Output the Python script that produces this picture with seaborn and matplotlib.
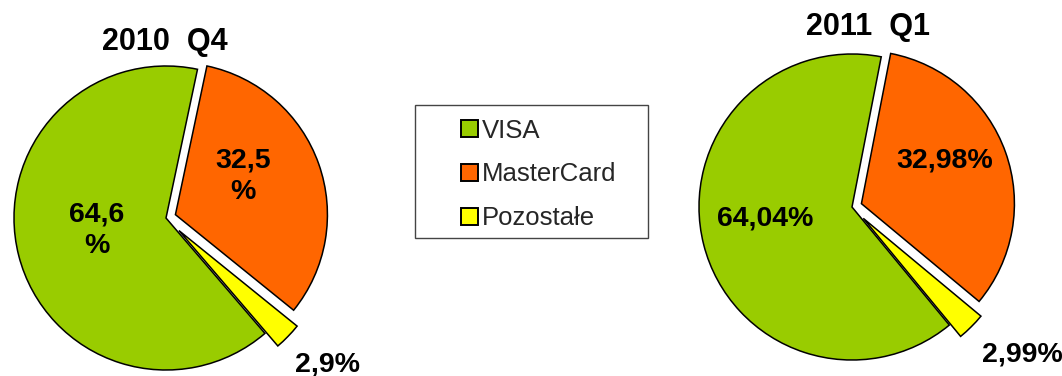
import matplotlib
matplotlib.use("Agg")
import matplotlib.pyplot as plt
import matplotlib.patches as mpatches
import seaborn as sns

sns.set_theme(style="white")
plt.rcParams['font.family'] = ['Liberation Sans', 'DejaVu Sans']

# ---- data ----
categories = ["VISA", "MasterCard", "Pozostałe"]
values_2010q4 = [64.6, 32.5, 2.9]
values_2011q1 = [64.04, 32.98, 2.99]
labels_2010q4 = ["64,6\n%", "32,5\n%", "2,9%"]
labels_2011q1 = ["64,04%", "32,98%", "2,99%"]
titles = ["2010  Q4", "2011  Q1"]
colors = ["#99CC00", "#FF6600", "#FFFF00"]

W, H = 1062, 376
fig = plt.figure(figsize=(W / 100, H / 100), dpi=100)
ax = fig.add_axes([0, 0, 1, 1])
ax.set_xlim(0, W)
ax.set_ylim(0, H)
ax.set_aspect("equal")
ax.axis("off")

def draw_pie(vals, center, radius, startangle, explode, labels, label_pos, title, title_pos):
    ax.pie(vals, colors=colors, center=center, radius=radius, startangle=startangle,
           counterclock=False, explode=explode,
           wedgeprops=dict(edgecolor="black", linewidth=1.1), frame=False)
    for lab, (lx, ly) in zip(labels, label_pos):
        ax.text(lx, H - ly, lab, ha="center", va="center", fontsize=20.5,
                fontweight="bold", linespacing=1.3, color="black")
    ax.text(title_pos[0], H - title_pos[1], title, ha="center", va="center",
            fontsize=22, fontweight="bold", color="black")

draw_pie(values_2010q4, (166, H - 218), 152, 90 - 139.4, [0, 10, 18],
         labels_2010q4, [(97, 230), (243, 176), (328, 364)],
         titles[0], (165, 42))
draw_pie(values_2011q1, (852, H - 207), 153, 90 - 140.5, [0, 10, 16],
         labels_2011q1, [(765, 218), (945, 160), (1022, 355)],
         titles[1], (868, 27))

ax.set_xlim(0, W)
ax.set_ylim(0, H)

# legend frame
frame = mpatches.Rectangle((415 / W, 1 - 238 / H), (648 - 415) / W, (238 - 105) / H,
                           transform=fig.transFigure, facecolor="white",
                           edgecolor="#444444", linewidth=1.0, zorder=5)
fig.add_artist(frame)

handles = [mpatches.Patch(facecolor=c, edgecolor="black", linewidth=1.4, label=l)
           for c, l in zip(colors, categories)]
leg = fig.legend(handles=handles, loc="upper left",
                 bbox_to_anchor=(453 / W, 1 - 111 / H), frameon=False,
                 fontsize=18.5, handlelength=0.66, handleheight=0.66,
                 handletextpad=0.15, labelspacing=0.77, borderpad=0.3,
                 borderaxespad=0)
leg.set_zorder(6)

fig.savefig("out.png", dpi=100)
